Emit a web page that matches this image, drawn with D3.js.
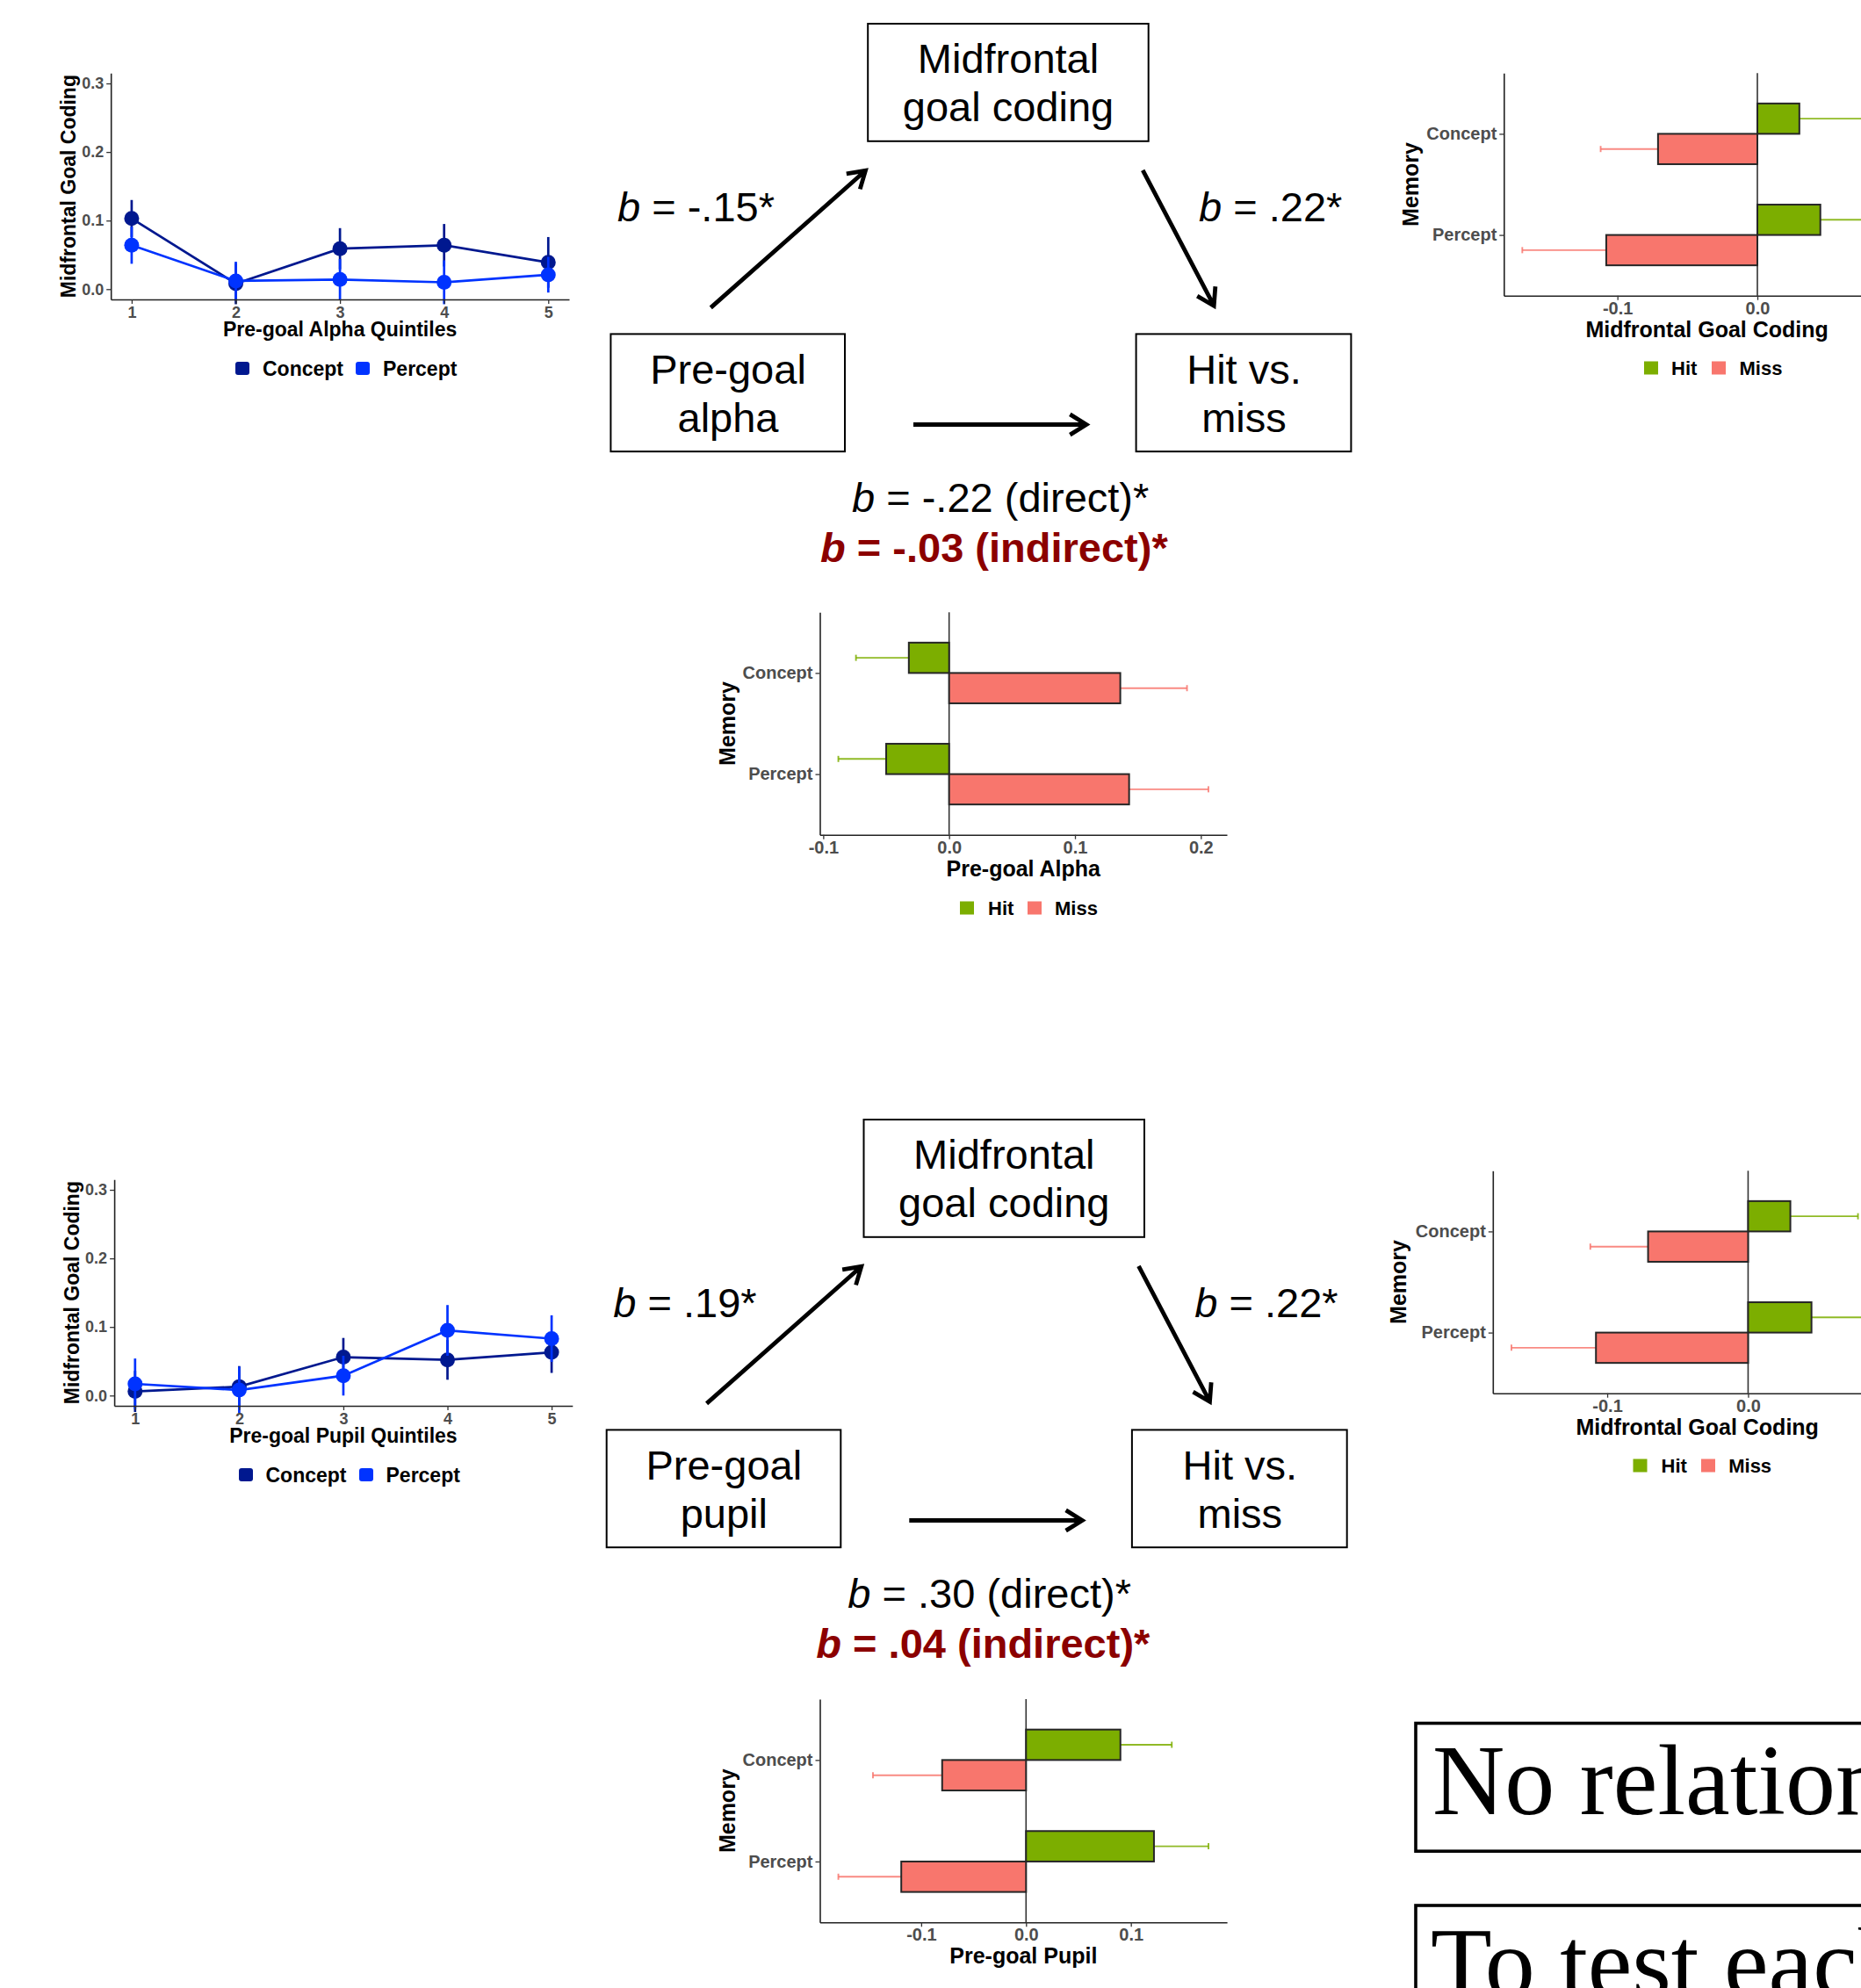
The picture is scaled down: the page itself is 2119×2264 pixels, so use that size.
<!DOCTYPE html>
<html><head><meta charset="utf-8">
<script src="https://cdn.jsdelivr.net/npm/d3@7"></script>
<style>
html,body{margin:0;padding:0;background:#fff;overflow:hidden}
svg{display:block}
text{font-family:"Liberation Sans",Arial,Helvetica,sans-serif;white-space:pre}
text.serif{font-family:"Liberation Serif","Times New Roman",serif}
</style></head><body>
<script>
// ---------------- data ----------------
const quintiles = [1, 2, 3, 4, 5];
const lineYLimits = [0, 0.3];
const lineYTicks = [0, 0.1, 0.2, 0.3];
const seriesNames = ["Concept", "Percept"];

const alphaConcept   = [0.103, 0.008, 0.059, 0.064, 0.039];
const alphaConceptSe = [0.027, 0.030, 0.030, 0.031, 0.037];
const alphaPercept   = [0.064, 0.012, 0.014, 0.010, 0.021];
const alphaPerceptSe = [0.027, 0.028, 0.030, 0.032, 0.026];

const pupilConcept   = [0.006, 0.013, 0.056, 0.052, 0.063];
const pupilConceptSe = [0.030, 0.030, 0.028, 0.029, 0.030];
const pupilPercept   = [0.017, 0.008, 0.029, 0.095, 0.083];
const pupilPerceptSe = [0.037, 0.034, 0.029, 0.037, 0.034];

const memoryTypes = ["Concept", "Percept"];
const outcomes = ["Hit", "Miss"];
const barXTicks = [-0.1, 0, 0.1, 0.2];

const alphaHit = [-0.032, -0.050], alphaHitSe = [0.042, 0.038];
const alphaMiss = [0.136, 0.143],  alphaMissSe = [0.053, 0.063];
const pupilHit = [0.090, 0.122],   pupilHitSe = [0.049, 0.052];
const pupilMiss = [-0.080, -0.119], pupilMissSe = [0.066, 0.060];
const mfgHit = [0.030, 0.045],     mfgHitSe = [0.048, 0.051];
const mfgMiss = [-0.071, -0.108],  mfgMissSe = [0.041, 0.060];

const mediatorLines = ["Midfrontal", "goal coding"];
const outcomeLines = ["Hit vs.", "miss"];
const alphaPredictorLines = ["Pre-goal", "alpha"];
const pupilPredictorLines = ["Pre-goal", "pupil"];
const alphaPaths = ["-.15*", ".22*", "-.22", "-.03"];
const pupilPaths = [".19*", ".22*", ".30", ".04"];
const noteTexts = ["No relationship", "To test each"];

// ---------------- setup ----------------
const W = 2119, H = 2264;
const svg = d3.select("body").append("svg").attr("width", W).attr("height", H);
const colConcept = "#00188f", colPercept = "#0033ff", colHit = "#7cae00", colMiss = "#f8766d";
const expand = (lo, hi, m = 0.05) => { const d = (hi - lo) * m; return [lo - d, hi + d]; };
const fmt1 = d => (Math.abs(d) < 1e-9 ? 0 : d).toFixed(1);

function styleAxis(a, fs) {
  a.select(".domain").attr("stroke", "#222").attr("stroke-width", 1.6);
  a.selectAll(".tick line").attr("stroke", "#333").attr("stroke-width", 1.3);
  a.selectAll(".tick text").attr("fill", "#4d4d4d").attr("font-size", fs).attr("font-weight", "bold");
}

// ---------------- line chart ----------------
function lineChart(L, series, xTitle) {
  const g = svg.append("g");
  const x = d3.scaleLinear().domain(expand(1, 5)).range([L.x0, L.x1]);
  const y = d3.scaleLinear().domain(expand(...lineYLimits)).range([L.y1, L.y0]);

  series.forEach(s => {
    const pts = quintiles.map((q, i) => ({ q, v: s.values[i], se: s.se[i] }));
    const sg = g.append("g");
    sg.append("path").datum(pts)
      .attr("d", d3.line().x(d => x(d.q)).y(d => y(d.v)))
      .attr("fill", "none").attr("stroke", s.color).attr("stroke-width", 2.7);
    sg.selectAll(null).data(pts).join("line")
      .attr("x1", d => x(d.q)).attr("x2", d => x(d.q))
      .attr("y1", d => y(d.v - d.se)).attr("y2", d => y(d.v + d.se))
      .attr("stroke", s.color).attr("stroke-width", 2.7);
    sg.selectAll(null).data(pts).join("circle")
      .attr("cx", d => x(d.q)).attr("cy", d => y(d.v)).attr("r", 8.5).attr("fill", s.color);
  });

  const ax = g.append("g").attr("transform", `translate(0,${L.y1})`)
    .call(d3.axisBottom(x).tickValues(quintiles).tickSize(5).tickSizeOuter(0).tickPadding(3).tickFormat(d3.format("d")));
  const ay = g.append("g").attr("transform", `translate(${L.x0},0)`)
    .call(d3.axisLeft(y).tickValues(lineYTicks).tickSize(5).tickSizeOuter(0).tickPadding(3).tickFormat(fmt1));
  styleAxis(ax, 18); styleAxis(ay, 18);

  g.append("text").attr("x", (L.x0 + L.x1) / 2).attr("y", L.y1 + 42.3).attr("text-anchor", "middle")
    .attr("font-size", 23).attr("font-weight", "bold").text(xTitle);
  g.append("text").attr("transform", `translate(${L.ytx},${(L.y0 + L.y1) / 2}) rotate(-90)`)
    .attr("text-anchor", "middle").attr("font-size", 23).attr("font-weight", "bold").text("Midfrontal Goal Coding");

  series.forEach((s, i) => {
    g.append("rect").attr("x", L.leg[i][0]).attr("y", L.legY - 8).attr("width", 16).attr("height", 15)
      .attr("rx", 3).attr("fill", s.color);
    g.append("text").attr("x", L.leg[i][1]).attr("y", L.legY + 8).attr("font-size", 23)
      .attr("font-weight", "bold").text(s.name);
  });
}

// ---------------- bar chart ----------------
function barChart(B, hit, hitSe, miss, missSe, xTitle) {
  const g = svg.append("g");
  const rows = memoryTypes.flatMap((m, i) => [
    { m, o: outcomes[0], v: hit[i], se: hitSe[i], c: colHit },
    { m, o: outcomes[1], v: miss[i], se: missSe[i], c: colMiss }
  ]);
  const ends = rows.map(r => r.v + Math.sign(r.v) * r.se).concat([0]);
  const x = d3.scaleLinear().domain(expand(d3.min(ends), d3.max(ends))).range([B.x0, B.x1]);
  const y = d3.scalePoint().domain(memoryTypes).range([B.y0, B.y1]).padding(0.6);
  const h = y.step() * 0.3;
  const by = r => (r.o === outcomes[0] ? y(r.m) - h : y(r.m));

  g.append("line").attr("x1", x(0)).attr("x2", x(0)).attr("y1", B.y0).attr("y2", B.y1)
    .attr("stroke", "#333").attr("stroke-width", 1.6);

  const eb = g.append("g");
  eb.selectAll(null).data(rows).join("line")
    .attr("x1", r => x(r.v)).attr("x2", r => x(r.v + Math.sign(r.v) * r.se))
    .attr("y1", r => by(r) + h / 2).attr("y2", r => by(r) + h / 2)
    .attr("stroke", r => r.c).attr("stroke-opacity", 0.85).attr("stroke-width", 1.9);
  eb.selectAll(null).data(rows).join("line")
    .attr("x1", r => x(r.v + Math.sign(r.v) * r.se)).attr("x2", r => x(r.v + Math.sign(r.v) * r.se))
    .attr("y1", r => by(r) + h / 2 - 3.5).attr("y2", r => by(r) + h / 2 + 3.5)
    .attr("stroke", r => r.c).attr("stroke-opacity", 0.85).attr("stroke-width", 1.9);

  g.selectAll(null).data(rows).join("rect")
    .attr("x", r => Math.min(x(0), x(r.v))).attr("width", r => Math.abs(x(r.v) - x(0)))
    .attr("y", by).attr("height", h)
    .attr("fill", r => r.c).attr("stroke", "#262626").attr("stroke-width", 2);

  // tick labels only where they fall inside the picture
  const ticks = barXTicks.filter(t => t >= x.domain()[0] && t <= x.domain()[1] && x(t) < W - 20);
  const ax = g.append("g").attr("transform", `translate(0,${B.y1})`)
    .call(d3.axisBottom(x).tickValues(ticks).tickSize(5).tickSizeOuter(0).tickPadding(2).tickFormat(fmt1));
  const ay = g.append("g").attr("transform", `translate(${B.x0},0)`)
    .call(d3.axisLeft(y).tickSize(5).tickSizeOuter(0).tickPadding(3));
  styleAxis(ax, 20); styleAxis(ay, 20);

  g.append("text").attr("x", (B.x0 + B.x1) / 2).attr("y", B.y1 + 47).attr("text-anchor", "middle")
    .attr("font-size", 25).attr("font-weight", "bold").text(xTitle);
  g.append("text").attr("transform", `translate(${B.ytx},${(B.y0 + B.y1) / 2}) rotate(-90)`)
    .attr("text-anchor", "middle").attr("font-size", 25).attr("font-weight", "bold").text("Memory");

  [colHit, colMiss].forEach((c, i) => {
    g.append("rect").attr("x", B.leg[i][0]).attr("y", B.legY - 7.5).attr("width", 16).attr("height", 15).attr("fill", c);
    g.append("text").attr("x", B.leg[i][1]).attr("y", B.legY + 8).attr("font-size", 22)
      .attr("font-weight", "bold").text(outcomes[i]);
  });
}

// ---------------- mediation diagram ----------------
function arrow(g, x1, y1, x2, y2) {
  const a = Math.atan2(y2 - y1, x2 - x1), L = 22, t = 32 * Math.PI / 180;
  const p = d3.path();
  p.moveTo(x1, y1); p.lineTo(x2, y2);
  p.moveTo(x2 - L * Math.cos(a - t), y2 - L * Math.sin(a - t));
  p.lineTo(x2, y2);
  p.lineTo(x2 - L * Math.cos(a + t), y2 - L * Math.sin(a + t));
  g.append("path").attr("d", p.toString()).attr("fill", "none").attr("stroke", "#000")
    .attr("stroke-width", 4.8).attr("stroke-linejoin", "miter");
}
function box(g, x, y, w, h, lines, cx, bl) {
  g.append("rect").attr("x", x + 1).attr("y", y + 1).attr("width", w - 2).attr("height", h - 2)
    .attr("fill", "none").attr("stroke", "#000").attr("stroke-width", 2);
  lines.forEach((t, i) => g.append("text").attr("x", cx).attr("y", bl[i]).attr("text-anchor", "middle")
    .attr("font-size", 47).text(t));
}
function bText(g, x, y, rest, opts = {}) {
  const t = g.append("text").attr("x", x).attr("y", y).attr("font-size", 47)
    .attr("fill", opts.color || "#000").attr("font-weight", opts.bold ? "bold" : "normal");
  t.append("tspan").attr("font-style", "italic").text("b");
  t.append("tspan").text(" = " + rest);
}
function diagram(dx, dy, predictor, paths) {
  const g = svg.append("g").attr("transform", `translate(${dx},${dy})`);
  box(g, 987.2, 26, 321.5, 135.8, mediatorLines, 1148, [83.3, 138]);
  box(g, 694.4, 379.4, 268.6, 135.8, predictor, 829, [437, 492]);
  box(g, 1292.6, 379.4, 246.8, 135.8, outcomeLines, 1416.5, [437, 492]);
  arrow(g, 809.3, 350.4, 985.5, 194.3);
  arrow(g, 1301.2, 193.8, 1382.2, 348.2);
  arrow(g, 1040, 483.5, 1237, 483.5);
  bText(g, 703, 252, paths[0]);
  bText(g, 1365, 252, paths[1]);
  bText(g, 970, 583, paths[2] + " (direct)*");
  bText(g, 934, 640, paths[3] + " (indirect)*", { bold: true, color: "#8b0000" });
}

// ---------------- draw ----------------
lineChart({ x0: 126.2, x1: 648, y0: 83.3, y1: 341, ytx: 86, legY: 420, leg: [[268, 299], [405, 436]] },
  [{ name: seriesNames[0], values: alphaConcept, se: alphaConceptSe, color: colConcept },
   { name: seriesNames[1], values: alphaPercept, se: alphaPerceptSe, color: colPercept }],
  "Pre-goal Alpha Quintiles");
lineChart({ x0: 130.1, x1: 651.8, y0: 1343.3, y1: 1601, ytx: 89.5, legY: 1680, leg: [[272, 302.5], [409, 439.5]] },
  [{ name: seriesNames[0], values: pupilConcept, se: pupilConceptSe, color: colConcept },
   { name: seriesNames[1], values: pupilPercept, se: pupilPerceptSe, color: colPercept }],
  "Pre-goal Pupil Quintiles");

barChart({ x0: 1712.3, x1: 2175, y0: 83.3, y1: 336.7, ytx: 1615, legY: 419, leg: [[1872, 1903], [1949, 1980.5]] },
  mfgHit, mfgHitSe, mfgMiss, mfgMissSe, "Midfrontal Goal Coding");
barChart({ x0: 933.5, x1: 1397, y0: 697.3, y1: 950.7, ytx: 837, legY: 1034, leg: [[1093, 1125], [1170, 1201]] },
  alphaHit, alphaHitSe, alphaMiss, alphaMissSe, "Pre-goal Alpha");
barChart({ x0: 1699.8, x1: 2165.6, y0: 1333.3, y1: 1586.7, ytx: 1601, legY: 1669, leg: [[1859.5, 1891.6], [1937, 1968.2]] },
  mfgHit, mfgHitSe, mfgMiss, mfgMissSe, "Midfrontal Goal Coding");
barChart({ x0: 933.5, x1: 1397.1, y0: 1935, y1: 2189.3, ytx: 837, legY: 2272, leg: [[1093, 1125], [1170, 1201]] },
  pupilHit, pupilHitSe, pupilMiss, pupilMissSe, "Pre-goal Pupil");

diagram(0, 0, alphaPredictorLines, alphaPaths);
diagram(-4.7, 1248, pupilPredictorLines, pupilPaths);

// notes (bottom right)
const ng = svg.append("g");
ng.append("rect").attr("x", 1612).attr("y", 1962.5).attr("width", 600).attr("height", 145.7)
  .attr("fill", "none").attr("stroke", "#000").attr("stroke-width", 3.6);
ng.append("rect").attr("x", 1612).attr("y", 2170).attr("width", 600).attr("height", 200)
  .attr("fill", "none").attr("stroke", "#000").attr("stroke-width", 3.6);
ng.append("text").attr("class", "serif").attr("x", 1631).attr("y", 2066).attr("font-size", 114).text(noteTexts[0]);
ng.append("text").attr("class", "serif").attr("x", 1629).attr("y", 2274).attr("font-size", 114).text(noteTexts[1]);
</script>
</body></html>
